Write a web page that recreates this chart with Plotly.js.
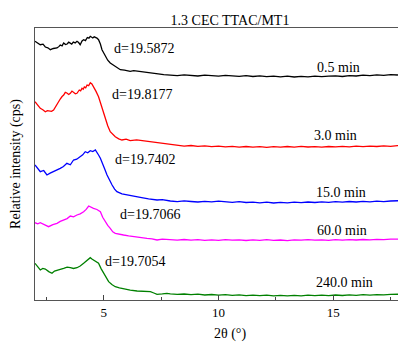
<!DOCTYPE html>
<html>
<head>
<meta charset="utf-8">
<script src="https://cdn.plot.ly/plotly-3.0.1.min.js"></script>
<style>
html,body{margin:0;padding:0;overflow:hidden;background:#fff;}
#chart{width:425px;height:342px;}
</style>
</head>
<body>
<div id="chart"></div>
<script>
// Shared 2θ positions for the flat tail of every pattern
const tailX = [7.9, 8.2, 8.5, 8.8, 9.1, 9.4, 9.7, 10.0, 10.3, 10.6, 10.9, 11.2, 11.5, 11.8, 12.1, 12.4, 12.7, 13.0, 13.3, 13.6, 13.9, 14.2, 14.5, 14.8, 15.1, 15.4, 15.7, 16.0, 16.3, 16.6, 16.9, 17.2, 17.5, 17.8, 18.1];

// 0.5 min
const x05 = [2.00, 2.12, 2.23, 2.35, 2.45, 2.56, 2.67, 2.80, 2.96, 3.05, 3.10, 3.18, 3.25, 3.33, 3.40, 3.47, 3.54, 3.60, 3.67, 3.75, 3.83, 3.90, 3.97, 4.05, 4.12, 4.20, 4.28, 4.35, 4.41, 4.47, 4.52, 4.58, 4.63, 4.70, 4.77, 4.85, 4.92, 4.99, 5.06, 5.17, 5.28, 5.39, 5.50, 5.61, 5.72, 5.90, 6.15, 6.30, 6.50, 6.70, 6.88, 7.05, 7.25, 7.45, 7.61];
const y05 = [258.7, 257.2, 255.3, 255.8, 253.0, 252.2, 250.3, 251.5, 252.0, 253.6, 255.0, 254.2, 257.0, 255.4, 256.0, 257.8, 257.0, 255.9, 258.0, 257.1, 258.7, 257.5, 255.3, 259.0, 260.3, 259.4, 262.5, 261.8, 263.7, 262.4, 262.0, 263.2, 262.7, 261.9, 260.3, 256.0, 250.3, 247.5, 243.7, 239.8, 237.0, 235.4, 233.7, 231.4, 230.3, 229.8, 228.7, 229.4, 228.9, 228.1, 227.7, 227.1, 226.6, 225.9, 225.3];
const t05 = [225.0, 224.3, 225.2, 224.6, 224.0, 224.9, 224.2, 223.8, 224.6, 224.0, 223.6, 224.3, 223.5, 224.1, 223.4, 223.9, 223.2, 223.8, 223.0, 223.6, 223.1, 223.9, 223.3, 223.8, 224.2, 223.5, 224.4, 224.0, 224.8, 224.3, 225.1, 224.6, 225.4, 225.0, 225.6];

// 3.0 min
const x30 = [2.00, 2.12, 2.23, 2.34, 2.45, 2.54, 2.62, 2.72, 2.81, 2.89, 2.96, 3.03, 3.10, 3.18, 3.25, 3.32, 3.39, 3.47, 3.54, 3.61, 3.68, 3.76, 3.83, 3.88, 3.93, 3.99, 4.05, 4.10, 4.15, 4.21, 4.27, 4.34, 4.41, 4.48, 4.55, 4.66, 4.77, 4.85, 4.92, 4.99, 5.06, 5.17, 5.28, 5.39, 5.50, 5.65, 5.79, 5.97, 6.15, 6.43, 6.72, 7.02, 7.32, 7.55, 7.75];
const y30 = [198.3, 194.8, 191.7, 190.2, 188.3, 189.4, 189.0, 188.6, 190.0, 193.2, 196.7, 198.3, 201.0, 203.5, 205.0, 207.6, 207.0, 205.5, 206.7, 208.9, 208.0, 206.2, 206.7, 209.1, 210.0, 209.2, 211.7, 210.8, 213.0, 212.1, 215.0, 214.3, 217.3, 216.0, 213.3, 208.6, 203.3, 197.5, 191.7, 186.8, 181.7, 174.2, 168.3, 165.4, 163.3, 161.2, 160.0, 160.8, 159.3, 160.1, 159.3, 158.2, 157.3, 156.9, 156.0];
const t30 = [155.5, 154.8, 153.9, 154.5, 153.6, 154.2, 153.3, 153.9, 153.1, 153.7, 152.9, 153.5, 152.8, 153.4, 152.7, 153.3, 152.8, 153.5, 152.9, 153.6, 153.0, 153.4, 152.8, 153.5, 153.1, 153.7, 153.2, 153.8, 153.3, 153.9, 153.5, 154.1, 153.7, 154.3, 154.5];

// 15.0 min
const x150 = [2.00, 2.12, 2.23, 2.38, 2.52, 2.66, 2.81, 2.95, 3.10, 3.24, 3.39, 3.54, 3.68, 3.82, 3.97, 4.08, 4.19, 4.30, 4.41, 4.52, 4.63, 4.70, 4.77, 4.85, 4.92, 5.03, 5.14, 5.25, 5.36, 5.47, 5.57, 5.79, 6.01, 6.30, 6.59, 6.95, 7.32, 7.55, 7.75];
const y150 = [135.0, 130.8, 128.3, 129.5, 125.0, 126.8, 128.3, 129.9, 131.7, 133.5, 136.7, 135.2, 140.0, 140.8, 143.3, 145.1, 148.3, 147.2, 149.3, 148.5, 150.0, 148.0, 145.0, 141.8, 138.3, 131.4, 125.0, 119.6, 115.0, 110.9, 108.3, 106.1, 105.0, 103.9, 102.7, 101.1, 100.0, 100.3, 99.3];
const t150 = [99.0, 98.4, 99.1, 98.5, 98.0, 98.7, 98.2, 98.8, 98.1, 97.6, 98.3, 97.5, 97.9, 97.2, 97.8, 97.0, 97.6, 97.2, 97.9, 97.3, 98.0, 97.5, 98.2, 97.7, 98.4, 97.9, 98.5, 98.0, 98.6, 98.2, 98.8, 98.4, 99.0, 99.3, 99.5];

// 60.0 min
const x600 = [2.00, 2.12, 2.23, 2.41, 2.59, 2.78, 2.96, 3.10, 3.25, 3.40, 3.54, 3.68, 3.83, 3.97, 4.12, 4.23, 4.34, 4.45, 4.55, 4.70, 4.85, 4.95, 5.06, 5.17, 5.28, 5.39, 5.50, 5.68, 5.86, 6.08, 6.30, 6.59, 6.88, 7.10, 7.32, 7.55, 7.75];
const y600 = [77.3, 76.1, 77.3, 75.2, 73.3, 75.4, 76.7, 78.6, 80.0, 81.4, 84.0, 83.1, 85.0, 86.2, 88.3, 90.6, 94.0, 92.4, 91.7, 90.5, 88.3, 82.7, 78.3, 74.6, 71.7, 68.2, 66.7, 65.6, 65.0, 64.1, 63.3, 62.6, 61.7, 61.2, 60.0, 60.8, 60.7];
const t600 = [60.4, 59.8, 60.5, 59.9, 60.3, 59.6, 60.2, 59.7, 60.4, 59.8, 60.1, 59.5, 60.2, 59.7, 60.3, 59.6, 60.0, 59.4, 60.1, 59.8, 60.4, 59.9, 60.2, 59.6, 60.3, 59.8, 60.4, 60.0, 60.5, 60.1, 60.6, 60.3, 60.8, 60.6, 60.9];

// 240.0 min
const x2400 = [2.00, 2.12, 2.23, 2.34, 2.45, 2.60, 2.74, 2.85, 2.96, 3.10, 3.25, 3.40, 3.54, 3.68, 3.83, 3.97, 4.12, 4.26, 4.41, 4.48, 4.55, 4.66, 4.77, 4.88, 4.99, 5.10, 5.21, 5.35, 5.50, 5.68, 5.86, 6.15, 6.45, 6.74, 7.03, 7.18, 7.32, 7.55, 7.75];
const y2400 = [36.7, 32.9, 30.0, 31.6, 31.0, 28.4, 26.7, 28.9, 30.0, 30.6, 31.7, 32.9, 32.3, 31.5, 32.3, 34.0, 36.7, 39.1, 42.3, 41.0, 40.0, 38.7, 36.7, 31.4, 26.7, 22.0, 18.3, 15.4, 13.3, 12.1, 11.0, 9.8, 9.0, 8.7, 8.3, 7.0, 5.7, 6.1, 6.7];
const t2400 = [6.2, 5.6, 6.0, 5.3, 5.8, 5.0, 5.5, 4.8, 5.3, 4.6, 5.1, 4.4, 4.9, 4.3, 4.8, 4.2, 4.7, 4.1, 4.6, 4.2, 4.8, 4.3, 4.9, 4.4, 5.0, 4.5, 5.1, 4.7, 5.3, 4.9, 5.4, 5.1, 5.6, 5.7, 5.9];

const timeLabels = ["0.5 min", "3.0 min", "15.0 min", "60.0 min", "240.0 min"];
const dLabels = ["d=19.5872", "d=19.8177", "d=19.7402", "d=19.7066", "d=19.7054"];
const colors = ["#000000", "#ff0000", "#0000ff", "#ff00ff", "#008000"];

const seriesX = [x05, x30, x150, x600, x2400];
const seriesY = [y05, y30, y150, y600, y2400];
const tails = [t05, t30, t150, t600, t2400];

// label placement (layout only)
const dPos = [[5.37, 252], [5.28, 206], [5.41, 141], [5.63, 86], [4.98, 38.5]];
const tPos = [[14.22, 233], [14.09, 165], [14.14, 108], [14.22, 70], [14.14, 18]];

const font = "Liberation Serif, Times New Roman, serif";

const traces = seriesX.map((xs, i) => ({
  x: xs.concat(tailX),
  y: seriesY[i].concat(tails[i]),
  type: "scatter",
  mode: "lines",
  name: timeLabels[i],
  line: {color: colors[i], width: 1.3},
  hoverinfo: "skip"
}));

const annotations = [];
for (let i = 0; i < 5; i++) {
  annotations.push({x: dPos[i][0], y: dPos[i][1], xref: "x", yref: "y", text: dLabels[i], showarrow: false, xanchor: "left", yanchor: "middle", font: {family: font, size: 14, color: "#000"}});
  annotations.push({x: tPos[i][0], y: tPos[i][1], xref: "x", yref: "y", text: timeLabels[i], showarrow: false, xanchor: "left", yanchor: "middle", font: {family: font, size: 14, color: "#000"}});
}

const layout = {
  width: 425,
  height: 342,
  margin: {l: 35, r: 0, t: 28, b: 42},
  paper_bgcolor: "#fff",
  plot_bgcolor: "#fff",
  showlegend: false,
  title: {text: "1.3 CEC TTAC/MT1", x: 0.5, xref: "paper", xanchor: "center", y: 0.9415, yref: "container", yanchor: "middle", font: {family: font, size: 14, color: "#000"}},
  xaxis: {
    range: [2, 19],
    tickvals: [5, 10, 15],
    ticktext: ["5", "10", "15"],
    ticks: "inside",
    ticklen: 5,
    tickwidth: 1,
    tickcolor: "#444",
    minor: {tickvals: [2.5, 7.5, 12.5, 17.5], ticks: "inside", ticklen: 3, tickcolor: "#444", tickwidth: 1, showgrid: false},
    showgrid: false,
    zeroline: false,
    showline: true,
    linecolor: "#555",
    linewidth: 1.3,
    mirror: true,
    tickfont: {family: font, size: 13, color: "#000"},
    title: {text: "2θ (°)", font: {family: font, size: 14, color: "#000"}, standoff: 12}
  },
  yaxis: {
    range: [0, 272],
    showticklabels: false,
    ticks: "",
    showgrid: false,
    zeroline: false,
    showline: true,
    linecolor: "#555",
    linewidth: 1.3,
    title: {text: "Relative intensity (cps)", font: {family: font, size: 14, color: "#000"}, standoff: 9}
  },
  annotations: annotations
};

Plotly.newPlot("chart", traces, layout, {staticPlot: true, displayModeBar: false});
</script>
</body>
</html>
